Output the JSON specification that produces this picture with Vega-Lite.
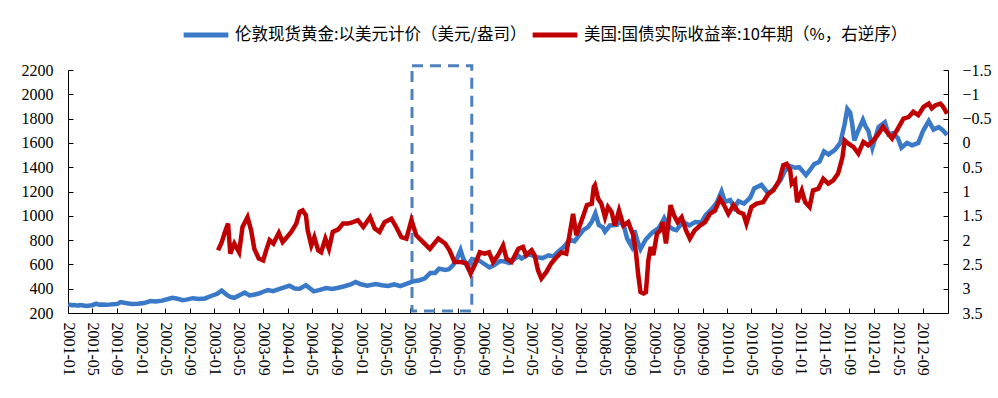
{
  "$schema": "https://vega.github.io/schema/vega-lite/v6.json",
  "width": 880,
  "height": 243,
  "autosize": "none",
  "padding": {"left": 68, "top": 70, "right": 50, "bottom": 85},
  "background": "white",
  "config": {
    "view": {"stroke": null},
    "axis": {
      "grid": false,
      "domainColor": "#000000",
      "domainWidth": 1,
      "tickColor": "#000000",
      "tickSize": -5,
      "labelFont": "Liberation Serif",
      "labelFontSize": 16,
      "labelColor": "#000000",
      "labelOverlap": false,
      "title": null
    }
  },
  "datasets": {
    "gold": [
      {"d":"2001-01-02","v":270},{"d":"2001-01-20","v":264},{"d":"2001-02-01","v":265},{"d":"2001-02-20","v":260},{"d":"2001-03-01","v":266},{"d":"2001-03-20","v":262},{"d":"2001-04-01","v":258},{"d":"2001-04-20","v":262},{"d":"2001-05-01","v":264},{"d":"2001-05-22","v":277},{"d":"2001-06-05","v":268},{"d":"2001-06-15","v":270},{"d":"2001-07-15","v":267},{"d":"2001-08-15","v":273},{"d":"2001-09-05","v":275},{"d":"2001-09-20","v":290},{"d":"2001-10-15","v":282},{"d":"2001-11-15","v":275},{"d":"2001-12-15","v":276},
      {"d":"2002-01-15","v":282},{"d":"2002-02-15","v":298},{"d":"2002-03-15","v":295},{"d":"2002-04-15","v":302},{"d":"2002-05-15","v":315},{"d":"2002-06-05","v":325},{"d":"2002-07-01","v":318},{"d":"2002-07-25","v":305},{"d":"2002-08-15","v":310},{"d":"2002-09-15","v":322},{"d":"2002-10-15","v":315},{"d":"2002-11-15","v":320},{"d":"2002-12-15","v":340},
      {"d":"2003-01-15","v":358},{"d":"2003-02-06","v":385},{"d":"2003-03-01","v":352},{"d":"2003-03-20","v":332},{"d":"2003-04-10","v":325},{"d":"2003-05-15","v":355},{"d":"2003-06-01","v":368},{"d":"2003-06-25","v":345},{"d":"2003-07-15","v":350},{"d":"2003-08-10","v":360},{"d":"2003-09-01","v":375},{"d":"2003-09-25","v":388},{"d":"2003-10-20","v":380},{"d":"2003-11-15","v":395},{"d":"2003-12-15","v":410},
      {"d":"2004-01-10","v":425},{"d":"2004-02-05","v":402},{"d":"2004-03-01","v":400},{"d":"2004-04-01","v":428},{"d":"2004-05-10","v":378},{"d":"2004-06-10","v":390},{"d":"2004-07-10","v":405},{"d":"2004-08-10","v":398},{"d":"2004-09-10","v":408},{"d":"2004-10-10","v":420},{"d":"2004-11-10","v":435},{"d":"2004-12-05","v":455},{"d":"2004-12-31","v":436},
      {"d":"2005-02-01","v":425},{"d":"2005-03-15","v":438},{"d":"2005-04-15","v":428},{"d":"2005-05-15","v":422},{"d":"2005-06-15","v":435},{"d":"2005-07-15","v":422},{"d":"2005-08-15","v":440},{"d":"2005-09-20","v":462},{"d":"2005-10-20","v":470},{"d":"2005-11-15","v":485},{"d":"2005-12-12","v":530},
      {"d":"2006-01-05","v":530},{"d":"2006-01-25","v":565},{"d":"2006-02-25","v":555},{"d":"2006-03-15","v":560},{"d":"2006-04-05","v":595},{"d":"2006-04-22","v":640},{"d":"2006-05-12","v":718},{"d":"2006-05-25","v":650},{"d":"2006-06-14","v":585},{"d":"2006-07-08","v":645},{"d":"2006-08-15","v":630},{"d":"2006-09-15","v":595},{"d":"2006-10-03","v":575},{"d":"2006-10-25","v":592},{"d":"2006-11-22","v":625},{"d":"2006-12-15","v":625},
      {"d":"2007-01-10","v":612},{"d":"2007-02-25","v":670},{"d":"2007-03-12","v":648},{"d":"2007-04-20","v":685},{"d":"2007-05-25","v":660},{"d":"2007-06-25","v":652},{"d":"2007-07-25","v":675},{"d":"2007-08-17","v":665},{"d":"2007-09-10","v":705},{"d":"2007-10-10","v":745},{"d":"2007-11-07","v":805},{"d":"2007-12-01","v":790},{"d":"2007-12-20","v":830},
      {"d":"2008-01-15","v":885},{"d":"2008-02-05","v":905},{"d":"2008-02-25","v":950},{"d":"2008-03-14","v":1020},{"d":"2008-03-31","v":925},{"d":"2008-04-20","v":905},{"d":"2008-05-01","v":870},{"d":"2008-05-25","v":920},{"d":"2008-06-30","v":925},{"d":"2008-07-15","v":960},{"d":"2008-08-05","v":905},{"d":"2008-08-20","v":810},{"d":"2008-09-10","v":750},{"d":"2008-09-25","v":880},{"d":"2008-10-10","v":790},{"d":"2008-10-25","v":725},{"d":"2008-11-20","v":805},{"d":"2008-12-22","v":860},
      {"d":"2009-01-25","v":900},{"d":"2009-02-20","v":980},{"d":"2009-03-10","v":920},{"d":"2009-04-05","v":890},{"d":"2009-04-22","v":882},{"d":"2009-05-25","v":950},{"d":"2009-06-25","v":920},{"d":"2009-07-25","v":948},{"d":"2009-08-25","v":945},{"d":"2009-09-15","v":1005},{"d":"2009-10-15","v":1055},{"d":"2009-11-10","v":1110},{"d":"2009-12-03","v":1200},{"d":"2009-12-20","v":1115},
      {"d":"2010-01-15","v":1130},{"d":"2010-02-05","v":1065},{"d":"2010-02-25","v":1120},{"d":"2010-03-25","v":1100},{"d":"2010-04-25","v":1150},{"d":"2010-05-15","v":1225},{"d":"2010-06-20","v":1255},{"d":"2010-07-25","v":1180},{"d":"2010-08-25","v":1230},{"d":"2010-09-25","v":1300},{"d":"2010-10-15","v":1370},{"d":"2010-11-10","v":1410},{"d":"2010-12-05","v":1395},{"d":"2010-12-25","v":1400},
      {"d":"2011-01-10","v":1370},{"d":"2011-01-28","v":1335},{"d":"2011-02-20","v":1385},{"d":"2011-03-10","v":1425},{"d":"2011-04-05","v":1445},{"d":"2011-04-28","v":1530},{"d":"2011-05-20","v":1505},{"d":"2011-06-20","v":1540},{"d":"2011-07-18","v":1600},{"d":"2011-08-08","v":1750},{"d":"2011-08-22","v":1880},{"d":"2011-09-05","v":1850},{"d":"2011-09-15","v":1760},{"d":"2011-09-26","v":1620},{"d":"2011-10-15","v":1700},{"d":"2011-11-08","v":1790},{"d":"2011-11-20","v":1740},{"d":"2011-12-05","v":1700},{"d":"2011-12-25","v":1560},
      {"d":"2012-01-25","v":1730},{"d":"2012-02-25","v":1770},{"d":"2012-03-15","v":1670},{"d":"2012-04-05","v":1680},{"d":"2012-04-30","v":1640},{"d":"2012-05-18","v":1560},{"d":"2012-06-15","v":1600},{"d":"2012-07-10","v":1580},{"d":"2012-08-10","v":1600},{"d":"2012-09-03","v":1700},{"d":"2012-10-01","v":1780},{"d":"2012-10-25","v":1710},{"d":"2012-11-20","v":1730},{"d":"2012-12-10","v":1705},{"d":"2012-12-31","v":1665}
    ],
    "yield": [
      {"d":"2003-01-19","v":2.21},{"d":"2003-02-06","v":2.05},{"d":"2003-02-21","v":1.85},{"d":"2003-03-10","v":1.66},{"d":"2003-03-21","v":2.28},{"d":"2003-04-10","v":2.07},{"d":"2003-05-04","v":2.25},{"d":"2003-05-21","v":1.73},{"d":"2003-06-15","v":1.53},{"d":"2003-07-03","v":1.8},{"d":"2003-07-19","v":2.18},{"d":"2003-08-10","v":2.38},{"d":"2003-09-01","v":2.42},{"d":"2003-09-16","v":2.21},{"d":"2003-10-03","v":2.0},{"d":"2003-10-22","v":2.07},{"d":"2003-11-18","v":1.85},{"d":"2003-12-07","v":2.04},{"d":"2003-12-28","v":1.94},
      {"d":"2004-01-19","v":1.83},{"d":"2004-02-13","v":1.66},{"d":"2004-03-01","v":1.42},{"d":"2004-03-16","v":1.39},{"d":"2004-04-01","v":1.49},{"d":"2004-04-10","v":1.8},{"d":"2004-04-28","v":2.11},{"d":"2004-05-13","v":1.94},{"d":"2004-06-01","v":2.21},{"d":"2004-06-16","v":2.25},{"d":"2004-07-07","v":1.97},{"d":"2004-07-25","v":2.18},{"d":"2004-08-13","v":1.83},{"d":"2004-09-09","v":1.78},{"d":"2004-10-03","v":1.66},{"d":"2004-10-28","v":1.66},{"d":"2004-11-22","v":1.63},{"d":"2004-12-16","v":1.59},
      {"d":"2005-01-12","v":1.73},{"d":"2005-02-15","v":1.53},{"d":"2005-03-10","v":1.76},{"d":"2005-04-03","v":1.83},{"d":"2005-04-28","v":1.63},{"d":"2005-06-01","v":1.56},{"d":"2005-06-25","v":1.73},{"d":"2005-07-21","v":1.94},{"d":"2005-08-15","v":1.97},{"d":"2005-09-09","v":1.59},{"d":"2005-10-03","v":1.9},{"d":"2005-11-06","v":2.04},{"d":"2005-12-10","v":2.18},
      {"d":"2006-01-21","v":1.97},{"d":"2006-02-24","v":2.07},{"d":"2006-03-18","v":2.21},{"d":"2006-04-12","v":2.45},{"d":"2006-05-15","v":2.45},{"d":"2006-06-09","v":2.48},{"d":"2006-07-01","v":2.69},{"d":"2006-07-21","v":2.52},{"d":"2006-08-16","v":2.25},{"d":"2006-09-10","v":2.28},{"d":"2006-10-01","v":2.25},{"d":"2006-10-21","v":2.45},{"d":"2006-11-15","v":2.31},{"d":"2006-12-10","v":2.11},{"d":"2006-12-27","v":2.38},
      {"d":"2007-01-21","v":2.45},{"d":"2007-02-24","v":2.18},{"d":"2007-03-19","v":2.14},{"d":"2007-04-04","v":2.31},{"d":"2007-05-01","v":2.21},{"d":"2007-05-16","v":2.31},{"d":"2007-06-02","v":2.62},{"d":"2007-06-19","v":2.79},{"d":"2007-07-13","v":2.66},{"d":"2007-08-07","v":2.48},{"d":"2007-09-03","v":2.35},{"d":"2007-09-27","v":2.25},{"d":"2007-10-21","v":2.28},{"d":"2007-11-07","v":1.87},{"d":"2007-11-24","v":1.46},{"d":"2007-12-10","v":1.9},
      {"d":"2008-01-06","v":1.59},{"d":"2008-02-01","v":1.28},{"d":"2008-02-25","v":1.25},{"d":"2008-03-06","v":0.91},{"d":"2008-03-12","v":0.87},{"d":"2008-03-28","v":1.15},{"d":"2008-04-13","v":1.25},{"d":"2008-05-01","v":1.53},{"d":"2008-05-16","v":1.32},{"d":"2008-06-03","v":1.42},{"d":"2008-06-19","v":1.7},{"d":"2008-07-10","v":1.39},{"d":"2008-08-01","v":1.7},{"d":"2008-08-25","v":1.63},{"d":"2008-09-19","v":1.9},{"d":"2008-10-03","v":2.28},{"d":"2008-10-13","v":2.69},{"d":"2008-10-25","v":3.07},{"d":"2008-11-09","v":3.1},{"d":"2008-11-21","v":3.07},{"d":"2008-12-03","v":2.42},{"d":"2008-12-15","v":2.14},{"d":"2008-12-28","v":2.31},
      {"d":"2009-01-15","v":1.87},{"d":"2009-02-01","v":1.8},{"d":"2009-02-13","v":1.63},{"d":"2009-03-01","v":2.07},{"d":"2009-03-12","v":1.7},{"d":"2009-03-24","v":1.28},{"d":"2009-04-10","v":1.49},{"d":"2009-04-28","v":1.63},{"d":"2009-05-18","v":1.53},{"d":"2009-06-09","v":1.8},{"d":"2009-06-28","v":1.97},{"d":"2009-07-22","v":1.8},{"d":"2009-08-18","v":1.7},{"d":"2009-09-12","v":1.63},{"d":"2009-10-06","v":1.46},{"d":"2009-11-01","v":1.39},{"d":"2009-11-25","v":1.15},{"d":"2009-12-15","v":1.28},
      {"d":"2010-01-06","v":1.46},{"d":"2010-02-01","v":1.28},{"d":"2010-02-25","v":1.42},{"d":"2010-03-22","v":1.46},{"d":"2010-04-06","v":1.66},{"d":"2010-05-01","v":1.32},{"d":"2010-05-27","v":1.25},{"d":"2010-06-28","v":1.22},{"d":"2010-07-24","v":1.05},{"d":"2010-08-18","v":0.98},{"d":"2010-09-17","v":0.77},{"d":"2010-10-07","v":0.46},{"d":"2010-10-24","v":0.43},{"d":"2010-11-10","v":0.56},{"d":"2010-11-18","v":0.84},{"d":"2010-12-04","v":0.77},{"d":"2010-12-15","v":1.22},
      {"d":"2011-01-07","v":0.98},{"d":"2011-01-24","v":1.22},{"d":"2011-02-15","v":1.32},{"d":"2011-03-04","v":0.98},{"d":"2011-03-31","v":0.94},{"d":"2011-04-24","v":0.74},{"d":"2011-05-19","v":0.84},{"d":"2011-06-13","v":0.77},{"d":"2011-07-07","v":0.63},{"d":"2011-07-29","v":0.29},{"d":"2011-08-09","v":-0.05},{"d":"2011-08-26","v":0.01},{"d":"2011-09-21","v":0.08},{"d":"2011-10-16","v":0.22},{"d":"2011-11-10","v":-0.02},{"d":"2011-12-04","v":0.05},{"d":"2011-12-30","v":-0.05},
      {"d":"2012-01-25","v":-0.19},{"d":"2012-02-16","v":-0.33},{"d":"2012-03-07","v":-0.22},{"d":"2012-04-01","v":-0.09},{"d":"2012-04-25","v":-0.26},{"d":"2012-05-28","v":-0.5},{"d":"2012-06-22","v":-0.53},{"d":"2012-07-16","v":-0.64},{"d":"2012-08-10","v":-0.57},{"d":"2012-09-05","v":-0.74},{"d":"2012-10-01","v":-0.81},{"d":"2012-10-16","v":-0.71},{"d":"2012-11-02","v":-0.77},{"d":"2012-11-28","v":-0.81},{"d":"2012-12-13","v":-0.74},{"d":"2012-12-31","v":-0.6}
    ],
    "box": [
      {"x1":"2005-09-12","x2":"2006-07-07","y1":216,"y2":2236}
    ]
  },
  "encoding": {
    "x": {
      "field": "d",
      "type": "temporal",
      "scale": {"type": "utc", "nice": false, "domain": [{"year":2001,"month":1,"date":1,"utc":true},{"year":2013,"month":1,"date":5,"utc":true}]},
      "axis": {
        "labelAngle": 90,
        "format": "%Y-%m",
        "labelPadding": 14,
        "labelOverlap": false,
        "values": [
          {"year":2001,"month":1,"date":1,"utc":true},{"year":2001,"month":5,"date":1,"utc":true},{"year":2001,"month":9,"date":1,"utc":true},
          {"year":2002,"month":1,"date":1,"utc":true},{"year":2002,"month":5,"date":1,"utc":true},{"year":2002,"month":9,"date":1,"utc":true},
          {"year":2003,"month":1,"date":1,"utc":true},{"year":2003,"month":5,"date":1,"utc":true},{"year":2003,"month":9,"date":1,"utc":true},
          {"year":2004,"month":1,"date":1,"utc":true},{"year":2004,"month":5,"date":1,"utc":true},{"year":2004,"month":9,"date":1,"utc":true},
          {"year":2005,"month":1,"date":1,"utc":true},{"year":2005,"month":5,"date":1,"utc":true},{"year":2005,"month":9,"date":1,"utc":true},
          {"year":2006,"month":1,"date":1,"utc":true},{"year":2006,"month":5,"date":1,"utc":true},{"year":2006,"month":9,"date":1,"utc":true},
          {"year":2007,"month":1,"date":1,"utc":true},{"year":2007,"month":5,"date":1,"utc":true},{"year":2007,"month":9,"date":1,"utc":true},
          {"year":2008,"month":1,"date":1,"utc":true},{"year":2008,"month":5,"date":1,"utc":true},{"year":2008,"month":9,"date":1,"utc":true},
          {"year":2009,"month":1,"date":1,"utc":true},{"year":2009,"month":5,"date":1,"utc":true},{"year":2009,"month":9,"date":1,"utc":true},
          {"year":2010,"month":1,"date":1,"utc":true},{"year":2010,"month":5,"date":1,"utc":true},{"year":2010,"month":9,"date":1,"utc":true},
          {"year":2011,"month":1,"date":1,"utc":true},{"year":2011,"month":5,"date":1,"utc":true},{"year":2011,"month":9,"date":1,"utc":true},
          {"year":2012,"month":1,"date":1,"utc":true},{"year":2012,"month":5,"date":1,"utc":true},{"year":2012,"month":9,"date":1,"utc":true}
        ]
      }
    }
  },
  "layer": [
    {
      "layer": [
        {
          "data": {"name": "gold"},
          "mark": {"type": "line", "strokeWidth": 4.5, "interpolate": "linear"},
          "encoding": {
            "y": {
              "field": "v",
              "type": "quantitative",
              "scale": {"domain": [200, 2200], "nice": false, "zero": false},
              "axis": {"orient": "left", "values": [200,400,600,800,1000,1200,1400,1600,1800,2000,2200], "format": "d", "labelPadding": 20, "labelOverlap": false}
            },
            "color": {
              "datum": "伦敦现货黄金:以美元计价（美元/盎司）",
              "scale": {
                "domain": ["伦敦现货黄金:以美元计价（美元/盎司）", "美国:国债实际收益率:10年期（%，右逆序）"],
                "range": ["#3A78C8", "#C00000"]
              },
              "legend": {
                "orient": "none",
                "legendX": 113,
                "legendY": -60,
                "direction": "horizontal",
                "title": null,
                "symbolType": "stroke",
                "symbolStrokeWidth": 5,
                "symbolSize": 2000,
                "labelFont": "Noto Sans CJK SC",
                "labelFontSize": 16.5,
                "labelColor": "#000000",
                "labelLimit": 0,
                "labelOffset": 4,
                "columnPadding": -5
              }
            }
          }
        },
        {
          "data": {"name": "box"},
          "mark": {"type": "rect", "filled": false, "stroke": "#4F81BD", "strokeWidth": 3, "strokeDash": [11, 7], "clip": false},
          "encoding": {
            "x": {"field": "x1", "type": "temporal"},
            "x2": {"field": "x2"},
            "y": {
              "field": "y1",
              "type": "quantitative",
              "scale": {"domain": [200, 2200], "nice": false, "zero": false},
              "axis": {"orient": "left", "values": [200,400,600,800,1000,1200,1400,1600,1800,2000,2200], "format": "d", "labelPadding": 20, "labelOverlap": false}
            },
            "y2": {"field": "y2"}
          }
        }
      ]
    },
    {
      "data": {"name": "yield"},
      "mark": {"type": "line", "strokeWidth": 4.5, "interpolate": "linear"},
      "encoding": {
        "y": {
          "field": "v",
          "type": "quantitative",
          "scale": {"domain": [-1.5, 3.5], "reverse": true, "nice": false, "zero": false},
          "axis": {"orient": "right", "values": [-1.5,-1,-0.5,0,0.5,1,1.5,2,2.5,3,3.5], "format": "~g", "labelPadding": 19, "labelOverlap": false}
        },
        "color": {"datum": "美国:国债实际收益率:10年期（%，右逆序）"}
      }
    }
  ],
  "resolve": {"scale": {"y": "independent"}}
}
